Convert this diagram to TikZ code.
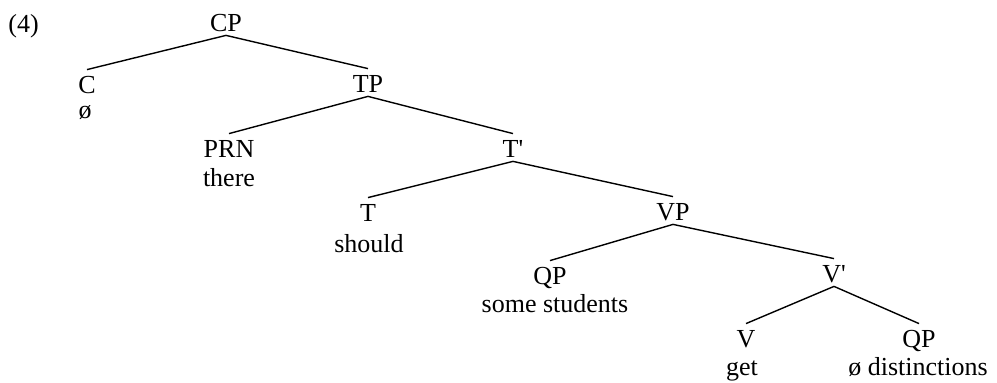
\documentclass[tikz,border=0pt]{standalone}
\usepackage{fontspec}
\setmainfont{Liberation Serif}
\usepackage{tikz}
\usetikzlibrary{positioning}
\tikzset{
  cat/.style={inner sep=0pt,anchor=base,text height=12pt,text depth=1.5pt,font=\fontsize{13}{15}\selectfont},
  word/.style={inner sep=0pt,anchor=base,font=\fontsize{13}{15}\selectfont},
  branch/.style={line width=0.7pt}
}
\begin{document}
\begin{tikzpicture}[x=0.5pt,y=0.5pt]
  \useasboundingbox (0,0) rectangle (997,-383);
  \node[word,anchor=base west] (exnum) at (8,-33) {(4)};
  % categories
  \node[cat] (cp) at (226,-32) {CP};
  \node[cat] (c) at (87,-94) {C};
  \node[cat] (tp) at (368,-93) {TP};
  \node[cat] (prn) at (229,-158) {PRN};
  \node[cat] (tbar) at (513,-158) {T\textquotesingle};
  \node[cat] (t) at (368,-222) {T};
  \node[cat] (vp) at (673,-221) {VP};
  \node[cat] (qpa) at (550,-285) {QP};
  \node[cat] (vbar) at (834,-283) {V\textquotesingle};
  \node[cat] (v) at (746,-348) {V};
  \node[cat] (qpb) at (919,-348) {QP};
  % words
  \node[word] (cword) at (85,-119) {ø};
  \node[word] (prnword) at (229,-187) {there};
  \node[word] (tword) at (369,-253) {should};
  \node[word] (qpaword) at (555,-313) {some students};
  \node[word] (vword) at (742,-376) {get};
  \node[word] (qpbword) at (918,-376) {ø distinctions};
  % branches
  \foreach \mother/\daughter in {cp/c,cp/tp,tp/prn,tp/tbar,tbar/t,tbar/vp,vp/qpa,vp/vbar,vbar/v,vbar/qpb}{\draw[branch] (\mother.south) -- (\daughter.north);}
\end{tikzpicture}
\end{document}
